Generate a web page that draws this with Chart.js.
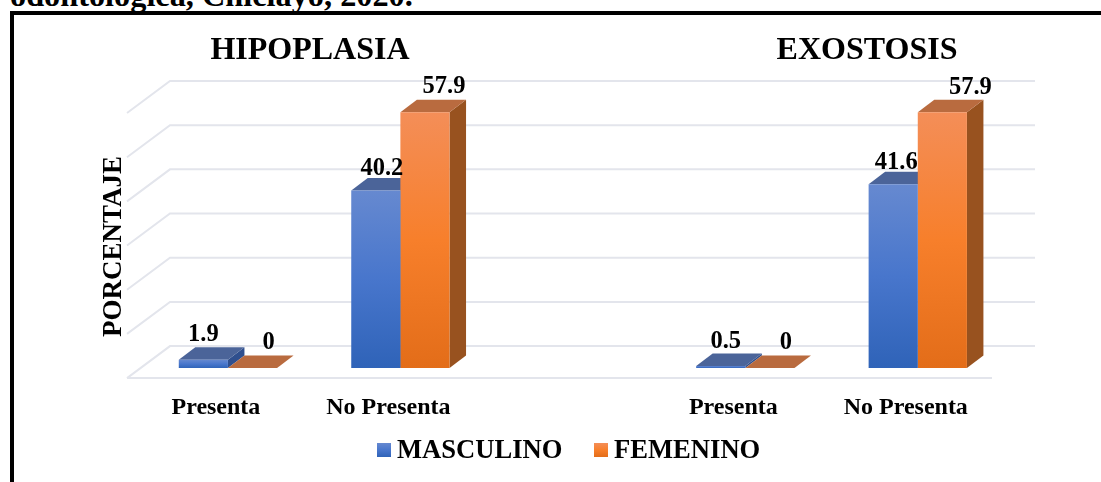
<!DOCTYPE html>
<html lang="es">
<head>
  <meta charset="UTF-8" />
  <title>Hipoplasia y exostosis</title>
  <script src="https://cdn.jsdelivr.net/npm/chart.js"></script>
  <style>
    html, body { margin: 0; height: 100%; background: #fff; overflow: hidden; }
    #caption {
      position: absolute; left: 10px; top: -21px; margin: 0; white-space: nowrap;
      font: bold 32.3px/32px "Liberation Serif", serif; color: #000;
    }
    #frame {
      position: absolute; left: 10px; top: 11px; right: 0; bottom: -10px;
      border: 4px solid #000; border-right: none; border-bottom: none;
    }
    #chart { position: absolute; left: 0; top: 0; }
  </style>
</head>
<body>
  <p id="caption">odontológica, Chiclayo, 2020.</p>
  <div id="frame"></div>
  <canvas id="chart" width="1101" height="482"></canvas>

  <script>
    // Data
    const categories = ['Presenta', 'No Presenta', '', 'Presenta', 'No Presenta'];
    const masculino = [1.9, 40.2, null, 0.5, 41.6];
    const femenino = [0, 57.9, null, 0, 57.9];
    const gridValues = [0, 10, 20, 30, 40, 50, 60];
    const panelTitles = ['HIPOPLASIA', 'EXOSTOSIS'];

    const serif = '"Liberation Serif", serif';

    const blue = { top: '#6689d0', mid: '#4876cc', bottom: '#2f63b8', roof: '#4b6499', side: '#2f4f8e' };
    const orange = { top: '#f48e58', mid: '#f77f2b', bottom: '#e36d19', roof: '#b96b3f', side: '#98521f' };

    // Depth of a bar, and offset of the back wall from the bar baseline
    const barDx = 16.5, barDy = 12.5;
    const wallLeft = 170, wallRight = 1035, wallDy = -22;
    const floorLeft = 127, floorRight = 992, floorDy = 10;

    // Where each value label sits relative to the top of its bar
    const labelShift = [
      [[0, -25], [6, -22], null, [5, -24], [3, -22]],
      [[16, -25], [19, -26], null, [16, -25], [28, -25]]
    ];

    function vertical(ctx, y0, y1, c) {
      const g = ctx.createLinearGradient(0, y0, 0, y1);
      g.addColorStop(0, c.top);
      g.addColorStop(0.5, c.mid);
      g.addColorStop(1, c.bottom);
      return g;
    }

    // Each bar gets its own gradient, from its top down to the baseline
    function barFill(c) {
      return (s) => {
        const y = s.chart.scales.y;
        if (!y || s.parsed == null || s.parsed.y == null) return c.mid;
        const top = y.getPixelForValue(s.parsed.y), base = y.getPixelForValue(0);
        if (!isFinite(top) || !isFinite(base) || top === base) return c.mid;
        return vertical(s.chart.ctx, top, base, c);
      };
    }

    function poly(ctx, points, fill) {
      ctx.fillStyle = fill;
      ctx.beginPath();
      points.forEach((p, i) => i ? ctx.lineTo(p[0], p[1]) : ctx.moveTo(p[0], p[1]));
      ctx.closePath();
      ctx.fill();
    }

    function centered(ctx, text, x, y, font) {
      ctx.font = font;
      ctx.fillStyle = '#000';
      ctx.textAlign = 'center';
      ctx.textBaseline = 'middle';
      ctx.fillText(text, x, y);
    }

    // Back wall, side wall and floor lines, placed from the y scale
    const wallPlugin = {
      id: 'wall',
      beforeDatasetsDraw(chart) {
        const { ctx, scales: { y } } = chart;
        ctx.save();
        ctx.strokeStyle = '#e3e5ec';
        ctx.lineWidth = 2;
        ctx.beginPath();
        gridValues.forEach((v) => {
          const py = y.getPixelForValue(v);
          ctx.moveTo(floorLeft, py + floorDy);
          ctx.lineTo(wallLeft, py + wallDy);
          ctx.lineTo(wallRight, py + wallDy);
        });
        const base = y.getPixelForValue(0);
        ctx.moveTo(floorLeft, base + floorDy);
        ctx.lineTo(floorRight, base + floorDy);
        ctx.stroke();

        // Roof and side faces of the bars
        chart.data.datasets.forEach((ds, i) => {
          const c = i === 0 ? blue : orange;
          chart.getDatasetMeta(i).data.forEach((bar, k) => {
            if (ds.data[k] == null) return;
            const l = bar.x - bar.width / 2, r = bar.x + bar.width / 2, t = bar.y;
            poly(ctx, [[r, t], [r + barDx, t - barDy], [r + barDx, base - barDy], [r, base]], c.side);
            poly(ctx, [[l, t], [r, t], [r + barDx, t - barDy], [l + barDx, t - barDy]], c.roof);
          });
        });
        ctx.restore();
      }
    };

    // Value labels, panel titles and the legend row
    const textPlugin = {
      id: 'texts',
      afterDatasetsDraw(chart) {
        const { ctx } = chart;
        ctx.save();
        chart.data.datasets.forEach((ds, i) => {
          chart.getDatasetMeta(i).data.forEach((bar, k) => {
            if (ds.data[k] == null) return;
            const [dx, dy] = labelShift[i][k];
            centered(ctx, String(ds.data[k]), bar.x + dx, bar.y + dy, 'bold 24.5px ' + serif);
          });
        });
        centered(ctx, panelTitles[0], 310, 51, 'bold 32px ' + serif);
        centered(ctx, panelTitles[1], 867, 51, 'bold 32px ' + serif);

        const legendY = 450;
        [[377, 397, 0, blue], [594, 614, 1, orange]].forEach(([boxX, textX, i, c]) => {
          ctx.fillStyle = vertical(ctx, legendY - 7, legendY + 7, c);
          ctx.fillRect(boxX, legendY - 7, 14, 14);
          ctx.font = 'bold 26.6px ' + serif;
          ctx.fillStyle = '#000';
          ctx.textAlign = 'left';
          ctx.textBaseline = 'middle';
          ctx.fillText(chart.data.datasets[i].label, textX, legendY + 1);
        });
        ctx.restore();
      }
    };

    new Chart(document.getElementById('chart'), {
      type: 'bar',
      data: {
        labels: categories,
        datasets: [
          { label: 'MASCULINO', data: masculino, backgroundColor: barFill(blue), borderWidth: 0 },
          { label: 'FEMENINO', data: femenino, backgroundColor: barFill(orange), borderWidth: 0 }
        ]
      },
      options: {
        responsive: false,
        animation: false,
        layout: { padding: { left: 37, right: 97, top: 103, bottom: 57 } },
        categoryPercentage: 0.57,
        barPercentage: 1,
        plugins: { legend: { display: false }, title: { display: false }, tooltip: { enabled: false } },
        scales: {
          x: {
            grid: { display: false, drawTicks: false },
            border: { display: false },
            ticks: {
              color: '#000', padding: 3, labelOffset: -12, maxRotation: 0, autoSkip: false,
              font: { family: serif, size: 24, weight: 'bold' }
            }
          },
          y: {
            min: -5,
            max: 60,
            grid: { display: false, drawTicks: false },
            border: { display: false },
            ticks: { display: false },
            title: {
              display: true,
              text: 'PORCENTAJE',
              color: '#000',
              font: { family: serif, size: 27, weight: 'bold' },
              padding: { top: 60.8, bottom: 11.5 }
            }
          }
        }
      },
      plugins: [wallPlugin, textPlugin]
    });
  </script>
</body>
</html>
